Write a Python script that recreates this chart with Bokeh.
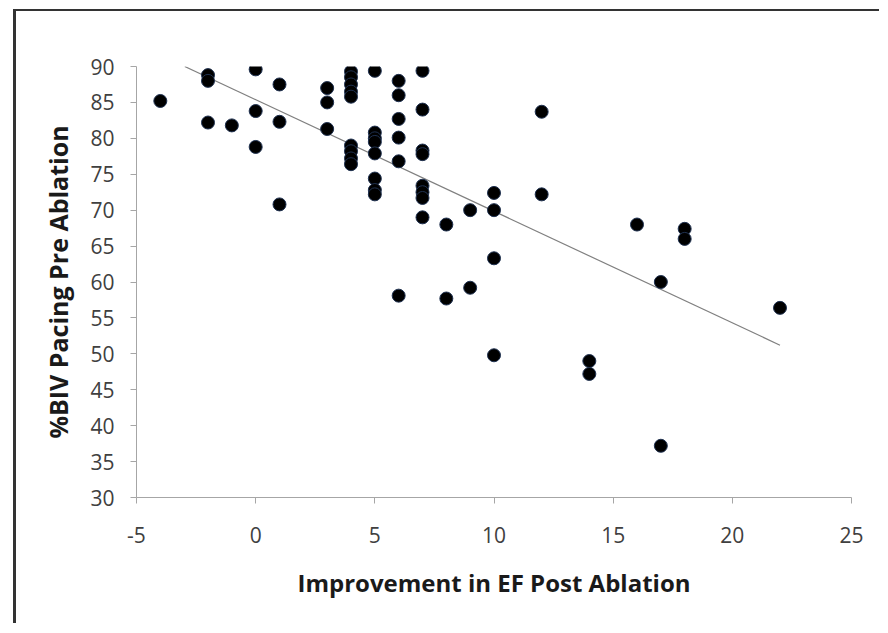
import numpy as np
from bokeh.plotting import figure
from bokeh.models import Range1d, FixedTicker
from bokeh.embed import file_html
from bokeh.resources import INLINE

# Improvement in EF post ablation (x) vs %BIV pacing pre ablation (y)
ef_improvement = [-4,
                  -2, -2, -2,
                  -1,
                  0, 0, 0,
                  1, 1, 1,
                  3, 3, 3,
                  4, 4, 4, 4, 4, 4, 4, 4, 4,
                  5, 5, 5, 5, 5, 5, 5, 5,
                  6, 6, 6, 6, 6, 6,
                  7, 7, 7, 7, 7, 7, 7, 7,
                  8, 8,
                  9, 9,
                  10, 10, 10, 10,
                  12, 12,
                  14, 14,
                  16,
                  17, 17,
                  18, 18,
                  22]
biv_pacing = [85.2,
              88.8, 88.0, 82.2,
              81.8,
              89.6, 83.8, 78.8,
              87.5, 82.3, 70.8,
              87.0, 85.0, 81.3,
              89.3, 88.5, 87.5, 86.5, 85.8, 79.0, 78.2, 77.2, 76.4,
              89.4, 80.8, 80.0, 79.5, 77.9, 74.4, 72.8, 72.2,
              88.0, 86.0, 82.7, 80.1, 76.8, 58.1,
              89.4, 84.0, 78.3, 77.8, 73.4, 72.5, 71.7, 69.0,
              68.0, 57.7,
              70.0, 59.2,
              72.4, 70.0, 63.3, 49.8,
              83.7, 72.2,
              49.0, 47.2,
              68.0,
              60.0, 37.2,
              67.4, 66.0,
              56.4]

x_ticks = [-5, 0, 5, 10, 15, 20, 25]
x_tick_labels = {-5: "-5", 0: "0", 5: "5", 10: "10", 15: "15", 20: "20", 25: "25"}
y_ticks = [30, 35, 40, 45, 50, 55, 60, 65, 70, 75, 80, 85, 90]

FONT = "Open Sans"
TICK_COLOR = "#404040"
AXIS_COLOR = "#a6a6a6"

p = figure(width=866, height=614, output_backend="svg", toolbar_location=None,
           x_range=Range1d(-5, 25), y_range=Range1d(30, 90),
           min_border_left=120, min_border_right=31, min_border_top=55, min_border_bottom=128)
p.outline_line_color = None
p.grid.grid_line_color = None
# page frame: dark lines along the left and top edges only
p.styles = {"border-left": "3px solid #333333", "border-top": "2px solid #333333",
            "border-right": "0px none", "border-bottom": "0px none",
            "outline": "none", "box-shadow": "none",
            "margin-left": "13px", "margin-top": "9px"}

for ax in (p.xaxis[0], p.yaxis[0]):
    ax.axis_line_color = AXIS_COLOR
    ax.major_tick_line_color = AXIS_COLOR
    ax.minor_tick_line_color = None
    ax.major_tick_in = 0
    ax.major_tick_out = 6
    ax.major_label_text_font = FONT
    ax.major_label_text_font_size = "21px"
    ax.major_label_text_color = TICK_COLOR
    ax.axis_label_text_font = FONT
    ax.axis_label_text_font_style = "bold"
    ax.axis_label_text_color = "#1a1a1a"

p.xaxis.axis_label_text_font_size = "24px"
p.yaxis.axis_label_text_font_size = "25px"
p.xaxis.ticker = FixedTicker(ticks=x_ticks)
p.xaxis.major_label_overrides = x_tick_labels
p.yaxis.ticker = FixedTicker(ticks=y_ticks)
p.xaxis.major_label_standoff = 23
p.yaxis.major_label_standoff = 16
p.xaxis.axis_label = "Improvement in EF Post Ablation"
p.yaxis.axis_label = "%BIV Pacing Pre Ablation"
p.xaxis.axis_label_standoff = 20
p.yaxis.axis_label_standoff = 12

# linear trendline (least squares), clipped at axis maximum
xs = np.array(ef_improvement, dtype=float)
ys = np.array(biv_pacing, dtype=float)
m, b = np.polyfit(xs, ys, 1)
x0 = max(xs.min(), (90 - b) / m)
x1 = xs.max()
p.line([x0, x1], [m * x0 + b, m * x1 + b], line_color="#808080", line_width=1.2)

p.scatter(ef_improvement, biv_pacing, size=13, fill_color="black",
          line_color="#1f3150", line_width=1)

open("out.html", "w").write(file_html(p, INLINE))
